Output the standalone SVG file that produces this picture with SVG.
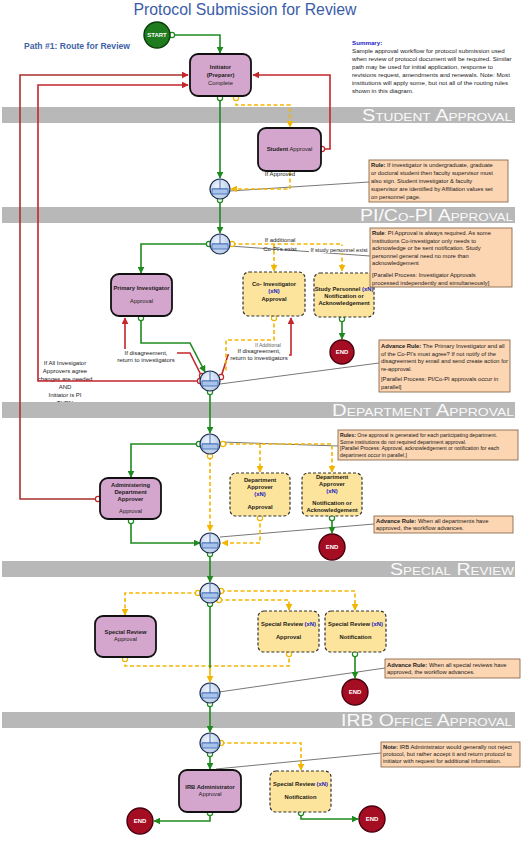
<svg xmlns="http://www.w3.org/2000/svg" width="524" height="863" viewBox="0 0 524 863">
<style>
text{font-family:"Liberation Sans",Arial,sans-serif;fill:#1a1a1a}
.bx{fill:#d5a6cd;stroke:#111;stroke-width:1.8}
.by{fill:#fde49c;stroke:#333;stroke-width:1.2;stroke-dasharray:3 2}
.note{fill:#fcd5b2;stroke:#8a6a4e;stroke-width:0.9}
.band{fill:#b8b8b8}
.bt{font-variant:small-caps;fill:#fafafa;font-size:16px}
.c{fill:none;stroke-width:1.6}
.g{stroke:#1f8a1f}
.r{stroke:#c3262b}
.rd{stroke:#a8322d}
.y{stroke:#f2b600;stroke-dasharray:4 2.5}
.a{fill:none;stroke:#555;stroke-width:0.8}
.pg{fill:#fff;stroke:#1f8a1f;stroke-width:1.2}
.pr{fill:#fff;stroke:#c3262b;stroke-width:1.2}
.py{fill:#fff;stroke:#f2b600;stroke-width:1.2}
.n{font-size:5.8px;text-anchor:middle}
.b{font-weight:bold}
.xn{fill:#2020c0;font-weight:bold}
.nt{font-size:5.8px}
.lb{font-size:6px;text-anchor:middle}
.end{fill:#a50d22;stroke:#4a0010;stroke-width:1.4}
.et{fill:#fff;font-size:6px;font-weight:bold;text-anchor:middle}
</style>
<defs>
<marker id="ag" viewBox="0 0 10 10" refX="9" refY="5" markerUnits="userSpaceOnUse" markerWidth="7" markerHeight="7" orient="auto"><path d="M0,0 L10,5 L0,10 z" fill="#1f8a1f"/></marker>
<marker id="ar" viewBox="0 0 10 10" refX="9" refY="5" markerUnits="userSpaceOnUse" markerWidth="7" markerHeight="7" orient="auto"><path d="M0,0 L10,5 L0,10 z" fill="#c3262b"/></marker>
<marker id="ay" viewBox="0 0 10 10" refX="9" refY="5" markerUnits="userSpaceOnUse" markerWidth="7" markerHeight="7" orient="auto"><path d="M0,0 L10,5 L0,10 z" fill="#f2b600"/></marker>
<radialGradient id="gwf" cx="0.4" cy="0.35" r="0.7"><stop offset="0" stop-color="#eef3fb"/><stop offset="1" stop-color="#b5c9e6"/></radialGradient>
<g id="gw"><circle r="10" fill="url(#gwf)" stroke="#1f3050" stroke-width="1.2"/><path d="M0,-10 V0 M-8,0 H8" stroke="#3b66b0" stroke-width="0.9" fill="none"/><rect x="-8" y="0" width="16" height="5" fill="#a9c4ea" stroke="#3b66b0" stroke-width="0.8"/></g>
</defs>
<rect width="524" height="863" fill="#fff"/>

<text x="245" y="15" font-size="16.5" text-anchor="middle" style="fill:#3a5ca8" textLength="223" lengthAdjust="spacingAndGlyphs">Protocol Submission for Review</text>
<text x="24" y="49" font-size="8.4" class="b" style="fill:#3f63a6" textLength="106" lengthAdjust="spacingAndGlyphs">Path #1:  Route for Review</text>
<g id="summary" font-size="6.2">
<text x="352" y="45" class="b" style="fill:#1c1cc8">Summary:</text>
<text x="352" y="53">Sample approval workflow for protocol submission used</text>
<text x="352" y="61">when review of protocol document will be required.  Similar</text>
<text x="352" y="69">path may be used for initial application, response to</text>
<text x="352" y="77">revisions request, amendments and renewals. Note: Most</text>
<text x="352" y="85">institutions will apply some, but not all of the routing rules</text>
<text x="352" y="93">shown in this diagram.</text>
</g>

<!-- labels behind bands -->
<g id="label-left">
<rect x="30" y="344" width="68" height="58" fill="#fff"/>
<text class="lb" x="65" y="365">If All Invesigator</text>
<text class="lb" x="65" y="373">Approvers agree</text>
<text class="lb" x="65" y="381">changes are needed</text>
<text class="lb" x="65" y="389">AND</text>
<text class="lb" x="65" y="397">Initiator is PI</text>
<text class="lb" x="65" y="405">THEN</text>
</g>

<g id="bands">
<rect class="band" x="2" y="107" width="513" height="16"/>
<text class="bt" x="362" y="121" textLength="150" lengthAdjust="spacingAndGlyphs">Student Approval</text>
<rect class="band" x="2" y="207" width="513" height="16"/>
<text class="bt" x="360" y="221" textLength="153" lengthAdjust="spacingAndGlyphs">PI/Co-PI Approval</text>
<rect class="band" x="2" y="402" width="513" height="16"/>
<text class="bt" x="332" y="416" textLength="182" lengthAdjust="spacingAndGlyphs">Department Approval</text>
<rect class="band" x="2" y="561" width="513" height="16"/>
<text class="bt" x="390" y="575" textLength="124" lengthAdjust="spacingAndGlyphs">Special Review</text>
<rect class="band" x="2" y="712" width="513" height="16"/>
<text class="bt" x="341" y="726" textLength="171" lengthAdjust="spacingAndGlyphs">IRB Office Approval</text>
</g>

<g id="connectors">
<!-- annotation lines -->
<path class="a" d="M230,191 L369,182"/>
<path class="a" d="M230,246 L370,256"/>
<path class="a" d="M220,384 L379,363"/>
<path class="a" d="M221,442 L338,446"/>
<path class="a" d="M220,537 L374,524"/>
<path class="a" d="M219,692 L385,668"/>
<path class="a" d="M216,769 L381,753"/>
<!-- red -->
<path class="c rd" d="M98,499 H20 V75 H188" marker-end="url(#ar)"/>
<path class="c r" d="M200,381 H38 V85 H188" marker-end="url(#ar)"/>
<path class="c r" d="M322,149 H330 V75 H253" marker-end="url(#ar)"/>
<path class="c r" d="M202,377 L190,353 H125 V318" marker-end="url(#ar)"/>
<path class="c r" d="M221,377 L228,355 H291 V318" marker-end="url(#ar)"/>
<!-- yellow -->
<path class="c y" d="M236,97 V105 H290 V127"  marker-end="url(#ay)"/>
<path class="c y" d="M290,172 V189 H231" marker-end="url(#ay)"/>
<path class="c y" d="M232,244 H342 V271" marker-end="url(#ay)"/>
<path class="c y" d="M274,244 V271" marker-end="url(#ay)"/>
<path class="c y" d="M274,317 V340 H226 V373"/>
<path class="c y" d="M223,444 H332 V472" marker-end="url(#ay)"/>
<path class="c y" d="M260,444 V472" marker-end="url(#ay)"/>
<path class="c y" d="M210,456 V531" marker-end="url(#ay)"/>
<path class="c y" d="M260,517 V543 H222" marker-end="url(#ay)"/>
<path class="c y" d="M198,593 H125 V615" marker-end="url(#ay)"/>
<path class="c y" d="M221,591 H355 V610" marker-end="url(#ay)"/>
<path class="c y" d="M219,600 H289 V610" marker-end="url(#ay)"/>
<path class="c y" d="M125,658 V666 H289 V655"/>
<path class="c y" d="M221,743 H301 V770" marker-end="url(#ay)"/>
<!-- green -->
<path class="c g" d="M172,35 H220 V53" marker-end="url(#ag)"/>
<path class="c g" d="M220,97 V178" marker-end="url(#ag)"/>
<path class="c g" d="M220,200 V233" marker-end="url(#ag)"/>
<path class="c g" d="M209,244 H141 V273" marker-end="url(#ag)"/>
<path class="c g" d="M141,317 V343 H190 L205,372" marker-end="url(#ag)"/>
<path class="c g" d="M342,318 V339" marker-end="url(#ag)"/>
<path class="c g" d="M210,392 V433" marker-end="url(#ag)"/>
<path class="c g" d="M199,444 H131 V477" marker-end="url(#ag)"/>
<path class="c g" d="M131,520 V543 H200" marker-end="url(#ag)"/>
<path class="c g" d="M332,517 V533" marker-end="url(#ag)"/>
<path class="c g" d="M210,554 V582" marker-end="url(#ag)"/>
<path class="c g" d="M210,604 V668"/>
<path class="c y" d="M210,668 V682" style="stroke-dasharray:none" marker-end="url(#ay)"/>
<path class="c g" d="M355,653 V678" marker-end="url(#ag)"/>
<path class="c g" d="M210,704 V732" marker-end="url(#ag)"/>
<path class="c g" d="M210,754 V769" marker-end="url(#ag)"/>
<path class="c g" d="M210,813 V821 H154" marker-end="url(#ag)"/>
<path class="c g" d="M301,813 V819 H358" marker-end="url(#ag)"/>
<!-- ports -->
<circle class="pg" cx="172" cy="35" r="2.6"/>
<circle class="pg" cx="220" cy="98" r="2.6"/>
<circle class="py" cx="236" cy="98" r="2.6"/>
<circle class="pr" cx="322" cy="149" r="2.6"/>
<circle class="pg" cx="220" cy="200" r="2.6"/>
<circle class="pg" cx="209" cy="244" r="2.6"/>
<circle class="py" cx="232" cy="244" r="2.6"/>
<circle class="pg" cx="141" cy="318" r="2.6"/>
<circle class="py" cx="274" cy="318" r="2.6"/>
<circle class="pg" cx="342" cy="319" r="2.6"/>
<circle class="pr" cx="200" cy="381" r="2.6"/>
<circle class="pr" cx="202" cy="376" r="2.6"/>
<circle class="pr" cx="221" cy="377" r="2.6"/>
<circle class="pg" cx="210" cy="392" r="2.6"/>
<circle class="pg" cx="199" cy="444" r="2.6"/>
<circle class="py" cx="223" cy="444" r="2.6"/>
<circle class="py" cx="210" cy="456" r="2.6"/>
<circle class="pr" cx="98" cy="499" r="2.6"/>
<circle class="pg" cx="131" cy="521" r="2.6"/>
<circle class="py" cx="260" cy="518" r="2.6"/>
<circle class="pg" cx="332" cy="518" r="2.6"/>
<circle class="pg" cx="210" cy="554" r="2.6"/>
<circle class="py" cx="198" cy="593" r="2.6"/>
<circle class="py" cx="221" cy="591" r="2.6"/>
<circle class="py" cx="219" cy="600" r="2.6"/>
<circle class="pg" cx="210" cy="604" r="2.6"/>
<circle class="py" cx="125" cy="659" r="2.6"/>
<circle class="py" cx="289" cy="654" r="2.6"/>
<circle class="pg" cx="355" cy="654" r="2.6"/>
<circle class="pg" cx="210" cy="704" r="2.6"/>
<circle class="py" cx="221" cy="743" r="2.6"/>
<circle class="pg" cx="210" cy="754" r="2.6"/>
<circle class="pg" cx="210" cy="813" r="2.6"/>
<circle class="pg" cx="301" cy="813" r="2.6"/>
</g>

<g id="edge-labels">
<text class="lb" x="280" y="176">If Approved</text>
<text class="lb" x="280" y="242">If additional</text>
<text class="lb" x="280" y="251">Co-PI's exist</text>
<rect x="309" y="246" width="60" height="7" fill="#fff"/>
<text class="lb" x="339" y="252" style="font-size:5.6px">If study personnel exist</text>
<text class="lb" x="268" y="347" style="font-size:5px;fill:#666">If Additional</text>
<rect x="115" y="349" width="62" height="14" fill="#fff"/>
<text class="lb" x="146" y="355">If disagreement,</text>
<text class="lb" x="146" y="362">return to investigators</text>
<rect x="229" y="348" width="60" height="14" fill="#fff"/>
<text class="lb" x="259" y="353">If disagreement,</text>
<text class="lb" x="259" y="360">return to investigators</text>
</g>

<g id="start"><circle cx="157" cy="35" r="13" fill="#1e7b1e" stroke="#0b3d0b" stroke-width="1.4"/><text class="et" x="157" y="37">START</text></g>

<g id="initiator"><rect class="bx" x="190" y="54" width="61" height="42" rx="8"/>
<text class="n b" x="220.5" y="69">Initiator</text><text class="n b" x="220.5" y="77">(Preparer)</text><text class="n" x="220.5" y="85">Complete</text></g>

<g id="student"><rect class="bx" x="258" y="128" width="63" height="43" rx="8"/>
<text class="n" x="289.5" y="151"><tspan class="b">Student</tspan> Approval</text></g>

<g id="gw1"><use href="#gw" x="220" y="189"/></g>
<g id="gw2"><use href="#gw" x="220" y="244"/></g>
<g id="gw3"><use href="#gw" x="210" y="381"/></g>
<g id="gw4"><use href="#gw" x="210" y="444"/></g>
<g id="gw5"><use href="#gw" x="210" y="543"/></g>
<g id="gw6"><use href="#gw" x="210" y="593"/></g>
<g id="gw7"><use href="#gw" x="210" y="693"/></g>
<g id="gw8"><use href="#gw" x="210" y="743"/></g>

<g id="pi"><rect class="bx" x="111" y="274" width="61" height="42" rx="8"/>
<text class="n b" x="141.5" y="290">Primary Investigator</text><text class="n" x="141.5" y="303">Approval</text></g>

<g id="coi"><rect class="by" x="243" y="272" width="62" height="44" rx="6"/>
<text class="n b" x="274" y="286">Co- Investigator</text><text class="n xn" x="274" y="293">(xN)</text><text class="n b" x="274" y="301">Approval</text></g>

<g id="study"><rect class="by" x="314" y="273" width="60" height="44" rx="6"/>
<text class="n" x="344" y="291"><tspan class="b">Study Personnel</tspan> <tspan class="xn">(xN)</tspan></text><text class="n b" x="344" y="298">Notification or</text><text class="n b" x="344" y="305">Acknowledgement</text></g>

<g id="end1"><circle class="end" cx="342" cy="352" r="12"/><text class="et" x="342" y="354">END</text></g>

<g id="admin"><rect class="bx" x="100" y="478" width="61" height="41" rx="8"/>
<text class="n b" x="130.5" y="487">Administering</text><text class="n b" x="130.5" y="494">Department</text><text class="n b" x="130.5" y="501">Approver</text><text class="n" x="130.5" y="513">Approval</text></g>

<g id="dept1"><rect class="by" x="230" y="473" width="60" height="43" rx="6"/>
<text class="n b" x="260" y="482">Department</text><text class="n b" x="260" y="489">Approver</text><text class="n xn" x="260" y="496">(xN)</text><text class="n b" x="260" y="509">Approval</text></g>

<g id="dept2"><rect class="by" x="302" y="473" width="60" height="43" rx="6"/>
<text class="n b" x="332" y="479">Department</text><text class="n b" x="332" y="486">Approver</text><text class="n xn" x="332" y="493">(xN)</text><text class="n b" x="332" y="505">Notification or</text><text class="n b" x="332" y="512">Acknowledgement</text></g>

<g id="end2"><circle class="end" cx="332" cy="547" r="13"/><text class="et" x="332" y="549">END</text></g>

<g id="sr1"><rect class="bx" x="95" y="616" width="61" height="41" rx="8"/>
<text class="n b" x="125.5" y="634">Special Review</text><text class="n" x="125.5" y="641">Approval</text></g>

<g id="sr2"><rect class="by" x="258" y="611" width="61" height="41" rx="6"/>
<text class="n" x="288.5" y="626"><tspan class="b">Special Review</tspan>  <tspan class="xn">(xN)</tspan></text><text class="n b" x="288.5" y="639">Approval</text></g>

<g id="sr3"><rect class="by" x="325" y="611" width="61" height="41" rx="6"/>
<text class="n" x="355.5" y="626"><tspan class="b">Special Review</tspan>  <tspan class="xn">(xN)</tspan></text><text class="n b" x="355.5" y="639">Notification</text></g>

<g id="end3"><circle class="end" cx="355" cy="692" r="13"/><text class="et" x="355" y="694">END</text></g>

<g id="irb"><rect class="bx" x="179" y="770" width="62" height="42" rx="8"/>
<text class="n b" x="210" y="789">IRB Administrator</text><text class="n" x="210" y="796">Approval</text></g>

<g id="sr4"><rect class="by" x="270" y="771" width="61" height="41" rx="6"/>
<text class="n" x="300.5" y="786"><tspan class="b">Special Review</tspan>  <tspan class="xn">(xN)</tspan></text><text class="n b" x="300.5" y="799">Notification</text></g>

<g id="end4"><circle class="end" cx="140" cy="821" r="13"/><text class="et" x="140" y="823">END</text></g>
<g id="end5"><circle class="end" cx="372" cy="819" r="13"/><text class="et" x="372" y="821">END</text></g>

<g id="note1"><rect class="note" x="369" y="160" width="139" height="42"/>
<text class="nt" x="371" y="167"><tspan class="b">Rule:</tspan> If investigator is undergraduate, graduate</text>
<text class="nt" x="371" y="175">or doctoral student then faculty supervisor must</text>
<text class="nt" x="371" y="183">also sign.  Student investigator &amp; faculty</text>
<text class="nt" x="371" y="191">supervisor are identified by Affiliation values set</text>
<text class="nt" x="371" y="199">on personnel page.</text></g>

<g id="note2"><rect class="note" x="370" y="228" width="142" height="59"/>
<text class="nt" x="372" y="235"><tspan class="b">Rule</tspan>: PI Approval is always required.  As some</text>
<text class="nt" x="372" y="242.5">institutions Co-investigator only needs to</text>
<text class="nt" x="372" y="250">acknowledge or be sent notification.  Study</text>
<text class="nt" x="372" y="257.5">personnel general need no more than</text>
<text class="nt" x="372" y="265">acknowledgement</text>
<text class="nt" x="372" y="277">[Parallel Process: Investigator Approvals</text>
<text class="nt" x="372" y="284.5">processed independently and simultaneously]</text></g>

<g id="note3"><rect class="note" x="379" y="340" width="131" height="52"/>
<text class="nt" x="381" y="348"><tspan class="b">Advance Rule:</tspan> The Primary Investigator and all</text>
<text class="nt" x="381" y="355.5">of the Co-PI's must agree? If not notify of the</text>
<text class="nt" x="381" y="363">disagreement by email and send create action for</text>
<text class="nt" x="381" y="370.5">re-approval.</text>
<text class="nt" x="381" y="381">[Parallel Process: PI/Co-PI approvals occur in</text>
<text class="nt" x="381" y="388.5">parallel]</text></g>

<g id="note4"><rect class="note" x="338" y="430" width="180" height="30"/>
<text class="nt" x="340" y="437" style="font-size:5.2px"><tspan class="b">Rules:</tspan>  One approval is generated for each participating department.</text>
<text class="nt" x="340" y="443.5" style="font-size:5.2px">Some institutions do not required department approval.</text>
<text class="nt" x="340" y="450" style="font-size:5.2px">[Parallel Process: Approval, acknowledgement or notification for each</text>
<text class="nt" x="340" y="456.5" style="font-size:5.2px">department occur in parallel.]</text></g>

<g id="note5"><rect class="note" x="374" y="516" width="139" height="17"/>
<text class="nt" x="376" y="523"><tspan class="b">Advance Rule:</tspan> When all departments have</text>
<text class="nt" x="376" y="530">approved, the workflow advances.</text></g>

<g id="note6"><rect class="note" x="385" y="659" width="135" height="19"/>
<text class="nt" x="387" y="666.5"><tspan class="b">Advance Rule:</tspan> When all special reviews have</text>
<text class="nt" x="387" y="674">approved, the workflow advances.</text></g>

<g id="note7"><rect class="note" x="381" y="742" width="139" height="25"/>
<text class="nt" x="383" y="749"><tspan class="b">Note:</tspan> IRB Administrator would generally not reject</text>
<text class="nt" x="383" y="756">protocol, but rather accept it and return protocol to</text>
<text class="nt" x="383" y="763">initiator with request for additional information.</text></g>
</svg>
